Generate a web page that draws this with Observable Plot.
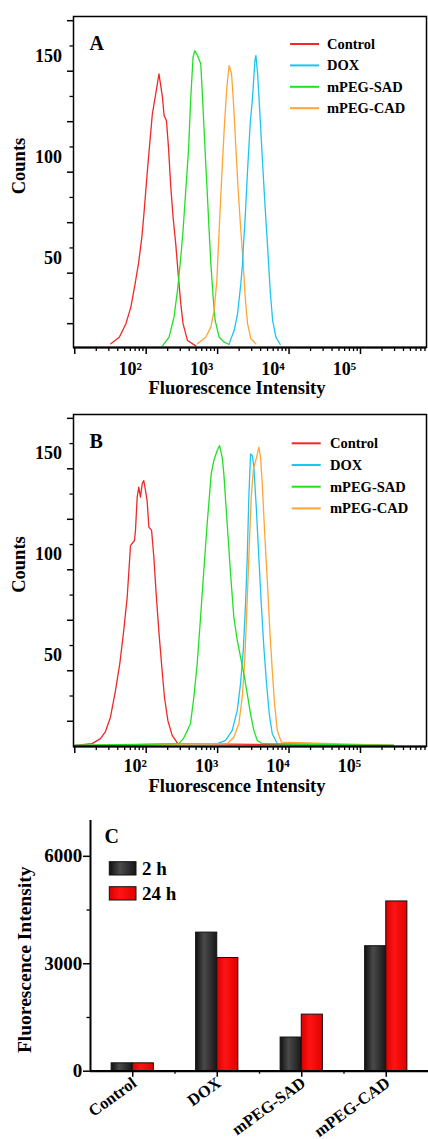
<!DOCTYPE html>
<html><head><meta charset="utf-8">
<script src="https://cdn.jsdelivr.net/npm/d3@7"></script>
<script src="https://cdn.jsdelivr.net/npm/@observablehq/plot@0.6"></script>
<style>
body{margin:0;background:#fff;}
#chart{width:428px;}
#chart svg{display:block;}
</style></head><body><div id="chart"></div>
<script>
// ---------- series names / colours ----------
const seriesNames = ["Control", "DOX", "mPEG-SAD", "mPEG-CAD"];
const seriesColors = ["#f02828", "#1cc6f0", "#22e022", "#ffa535"];

// ---------- Panel A (fluorescence intensity, counts) ----------
const aControlX = [32, 42, 52, 61, 70, 78, 87, 93, 104, 112, 122, 136, 151, 169, 178, 192, 205, 221, 238, 259, 283, 305, 328, 378, 494];
const aControlY = [15, 18.3, 25, 33.2, 44.8, 54.7, 67.8, 79.4, 100.8, 114, 128.9, 138.8, 148.7, 137, 128, 125.6, 112.4, 92.6, 77.7, 64.6, 48, 34.9, 25, 16.7, 14];
const aDoxX = [1449, 1702, 1901, 2113, 2234, 2307, 2432, 2624, 2858, 3083, 3327, 3436, 3631, 3908, 4266, 4592, 5012, 5445, 5888, 6546, 7534];
const aDoxY = [15, 21.6, 29.9, 44.8, 54.7, 64.6, 77.7, 100.8, 124, 137.1, 155.3, 157.8, 148.7, 128.9, 104.2, 84.4, 62.9, 41.4, 26.6, 18.3, 14.7];
const aSadX = [169, 209, 245, 274, 305, 328, 358, 391, 421, 453, 479, 522, 581, 614, 647, 682, 721, 760, 804, 865, 923, 1050, 1233, 1449];
const aSadY = [14, 18.3, 28.2, 41.4, 57.9, 71.1, 90.9, 110.7, 137.1, 156.9, 160.2, 157.8, 153.7, 137.1, 120.6, 104.2, 87.6, 71.1, 54.7, 38.1, 26.6, 18.3, 15.9, 14.7];
const aCadX = [522, 682, 804, 893, 975, 1050, 1135, 1233, 1346, 1449, 1567, 1671, 1799, 1941, 2113, 2280, 2432, 2624, 2924, 3436];
const aCadY = [15, 18.3, 23.3, 31.5, 46.4, 71.1, 95.9, 120.6, 142.1, 152.8, 148.7, 133.9, 112.4, 90.9, 71.1, 54.7, 38.1, 25, 17.5, 15];

// ---------- Panel B ----------
const bControlX = [10, 17.5, 22.9, 26.9, 31.6, 37.2, 42.7, 48.5, 54.2, 58.9, 60.3, 68.5, 70.8, 74.8, 78.7, 83.2, 87.9, 92.5, 97.7, 103, 109, 119, 128, 139, 150, 164, 180, 201, 231, 277, 290000];
const bControlY = [13, 13.9, 16.4, 19.9, 27, 40.3, 53.5, 70, 86.4, 106.2, 112, 114.5, 119.5, 136, 140.9, 136, 142.6, 144.2, 139.3, 134.3, 121.1, 119.5, 106.2, 86.4, 70, 53.5, 37, 25.4, 18, 13.9, 13];
const bDoxX = [10, 986, 1291, 1600, 1884, 2094, 2286, 2460, 2600, 2735, 2891, 3055, 3214, 3475, 3776, 4083, 4436, 4842, 5284, 5821, 6839, 290000];
const bDoxY = [13, 13.9, 15.5, 20.5, 30.4, 43.6, 60.1, 83.2, 106.2, 136, 157.4, 156.6, 150.8, 131, 106.2, 83.2, 61.7, 43.6, 28.7, 18.8, 13.9, 13];
const bSadX = [10, 286, 333, 378, 417, 465, 518, 577, 641, 714, 813, 885, 986, 1064, 1159, 1222, 1361, 1517, 1687, 1884, 2094, 2328, 2600, 2891, 3214, 3589, 4217, 290000];
const bSadY = [13, 13.9, 16.5, 20.5, 23.8, 37, 53.5, 76.5, 99.7, 122.8, 147.5, 154.1, 159.1, 161.5, 155.7, 147.5, 122.8, 98, 76.5, 65, 56.7, 48.5, 38.6, 28.7, 20.5, 15.5, 13.9, 13];
const bCadX = [10, 1361, 1687, 1982, 2213, 2382, 2541, 2735, 2958, 3155, 3319, 3508, 3776, 3990, 4217, 4539, 4955, 5383, 5821, 6266, 6839, 7780, 290000];
const bCadY = [13, 13.9, 17.1, 23.8, 37, 53.5, 76.5, 106.2, 136, 149.2, 152.5, 155.7, 160.7, 155.7, 142.6, 119.5, 94.8, 70, 50.2, 33.7, 20.5, 14.7, 13];

// ---------- Panel C (bars) ----------
const categories = ["Control", "DOX", "mPEG-SAD", "mPEG-CAD"];
const h2Values = [220, 3870, 940, 3490];
const h24Values = [220, 3160, 1580, 4740];
const barLegend = ["2 h", "24 h"];

// ---------- tick values ----------
const xMajorTicks = [10, 100, 1000, 10000, 100000];
const xLabelTicks = [100, 1000, 10000, 100000];
const xMinorTicks = [20,30,40,50,60,70,80,90,200,300,400,500,600,700,800,900,2000,3000,4000,5000,6000,7000,8000,9000,20000,30000,40000,50000,60000,70000,80000,90000,200000,300000,400000,500000,600000,700000,800000];
const yMajorTicks = [25, 50, 75, 100, 125, 150, 175];
const yMinorTicks = [37.5, 62.5, 87.5, 112.5, 137.5, 162.5];
const yLabelTicks = [50, 100, 150];
const cYTicks = [0, 3000, 6000];
const cYMinor = [1500, 4500];

const FONT = "'Liberation Serif', 'Times New Roman', serif";
const sup = {1: "¹", 2: "²", 3: "³", 4: "⁴", 5: "⁵"};
const baseStyle = {fontFamily: FONT, fontWeight: "bold", fontSize: "18px", background: "#fff", color: "#000", overflow: "visible"};

function histPanel(letter, series, o) {
  const svg = Plot.plot({
    width: 428, height: 400,
    marginTop: o.mt, marginBottom: o.mb, marginLeft: 73, marginRight: 2,
    style: baseStyle,
    x: {type: "log", domain: [9.6, 840000]},
    y: {domain: o.yd},
    marks: [
      ...series.map(s => Plot.line(s.x.map((x, i) => ({x, y: s.y[i]})), {x: "x", y: "y", stroke: s.color, strokeWidth: 1.3})),
      Plot.frame({strokeWidth: 1.5}),
      Plot.ruleY([o.yd[0]], {strokeWidth: 2.2}),
      Plot.axisX(xMinorTicks, {tickSize: 4, fill: "none", strokeWidth: 1.3, label: null}),
      Plot.axisX(xMajorTicks, {tickSize: 7, fill: "none", strokeWidth: 1.5, label: null}),
      Plot.axisX(xLabelTicks, {tickSize: 0, tickPadding: o.xtp, dx: o.xdx, fontSize: 18, fontWeight: "bold",
        tickFormat: d => "10" + sup[Math.round(Math.log10(d))], label: null}),
      Plot.axisY(yMinorTicks, {tickSize: 3.5, fill: "none", strokeWidth: 1.3, label: null}),
      Plot.axisY(yMajorTicks, {tickSize: 6, fill: "none", strokeWidth: 1.5, label: null}),
      Plot.axisY(yLabelTicks, {tickSize: 0, tickPadding: 11.5, dy: o.ydy, fontSize: 18, fontWeight: "bold", tickFormat: d => String(d), label: null}),
      Plot.text(["Counts"], {frameAnchor: "left", textAnchor: "middle", dx: -54, dy: -16, rotate: -90, fontSize: 18.5, fontWeight: "bold"}),
      Plot.text(["Fluorescence Intensity"], {frameAnchor: "bottom", textAnchor: "middle", dx: -13, dy: o.xldy, fontSize: 18.5, fontWeight: "bold"}),
      Plot.text([letter], {frameAnchor: "top-left", dx: 16, dy: 19, lineAnchor: "top", textAnchor: "start", fontSize: 20, fontWeight: "bold"})
    ]
  });
  const g = d3.select(svg).append("g").attr("font-family", FONT).attr("font-weight", "bold")
    .attr("font-size", 14.5).attr("text-anchor", "start");
  seriesNames.forEach((name, i) => {
    const y = o.legY + i * o.legStep;
    g.append("line").attr("x1", o.legX).attr("x2", o.legX + 29).attr("y1", y).attr("y2", y)
      .attr("stroke", seriesColors[i]).attr("stroke-width", 2);
    g.append("text").attr("x", o.legX + o.legGap).attr("y", y).attr("dy", "0.35em").attr("fill", "#000").text(name);
  });
  return svg;
}

const chart = document.getElementById("chart");

chart.appendChild(histPanel("A", [
  {x: aControlX, y: aControlY, color: seriesColors[0]},
  {x: aSadX, y: aSadY, color: seriesColors[2]},
  {x: aCadX, y: aCadY, color: seriesColors[3]},
  {x: aDoxX, y: aDoxY, color: seriesColors[1]}
], {mt: 16, mb: 53, yd: [13.2, 177.08], xtp: 14.5, xdx: -16, ydy: -15, xldy: 46, legX: 290, legY: 44, legStep: 21.4, legGap: 37}));

chart.appendChild(histPanel("B", [
  {x: bControlX, y: bControlY, color: seriesColors[0]},
  {x: bDoxX, y: bDoxY, color: seriesColors[1]},
  {x: bCadX, y: bCadY, color: seriesColors[3]},
  {x: bSadX, y: bSadY, color: seriesColors[2]}
], {mt: 14, mb: 54, yd: [12.5, 176.9], xtp: 13, xdx: -11, ydy: -16, xldy: 45, legX: 291.7, legY: 43.3, legStep: 21.7, legGap: 38.3}));

// ---------- Panel C ----------
const svgC = Plot.plot({
  width: 428, height: 339,
  marginTop: 20, marginBottom: 68.3, marginLeft: 90, marginRight: 0,
  style: baseStyle,
  x: {type: "linear", domain: [-0.5, 3.5]},
  y: {domain: [0, 7000]},
  marks: [
    Plot.rect(categories, {x1: (d, i) => i - 0.25, x2: (d, i) => i, y1: 0, y2: (d, i) => h2Values[i], fill: "url(#g2h)", stroke: "#111", strokeWidth: 1}),
    Plot.rect(categories, {x1: (d, i) => i, x2: (d, i) => i + 0.25, y1: 0, y2: (d, i) => h24Values[i], fill: "url(#g24h)", stroke: "#111", strokeWidth: 1}),
    Plot.ruleX([-0.5], {strokeWidth: 2}),
    Plot.ruleY([0], {strokeWidth: 2.2}),
    Plot.axisY(cYTicks, {tickSize: 7, fill: "none", strokeWidth: 1.5, label: null}),
    Plot.axisY(cYMinor, {tickSize: 3.5, fill: "none", strokeWidth: 1.3, label: null}),
    Plot.axisY(cYTicks, {tickSize: 0, tickPadding: 8.3, fontSize: 19, fontWeight: "bold", tickFormat: d => String(d), label: null}),
    Plot.axisX([0, 1, 2, 3], {tickSize: 6, fill: "none", strokeWidth: 1.5, label: null}),
    Plot.axisX([0.5, 1.5, 2.5], {tickSize: 3, fill: "none", strokeWidth: 1.3, label: null}),
    Plot.text(categories, {x: (d, i) => i, frameAnchor: "bottom", dx: 5, dy: 14, rotate: -36, textAnchor: "end", lineAnchor: "bottom", fontSize: 16.5, fontWeight: "bold"}),
    Plot.text(["Fluorescence Intensity"], {frameAnchor: "left", textAnchor: "middle", dx: -66, dy: 14, rotate: -90, fontSize: 19.5, fontWeight: "bold"}),
    Plot.text(["C"], {frameAnchor: "top-left", dx: 14, dy: 8, lineAnchor: "top", textAnchor: "start", fontSize: 20, fontWeight: "bold"})
  ]
});
const defs = d3.select(svgC).insert("defs", ":first-child");
const gDark = defs.append("linearGradient").attr("id", "g2h").attr("x1", 0).attr("x2", 1).attr("y1", 0).attr("y2", 0);
[[0, "#101010"], [0.4, "#4a4a4a"], [1, "#171717"]].forEach(([o, c]) => gDark.append("stop").attr("offset", o).attr("stop-color", c));
const gRed = defs.append("linearGradient").attr("id", "g24h").attr("x1", 0).attr("x2", 1).attr("y1", 0).attr("y2", 0);
[[0, "#d60000"], [0.4, "#ff1414"], [1, "#e00000"]].forEach(([o, c]) => gRed.append("stop").attr("offset", o).attr("stop-color", c));
const lg = d3.select(svgC).append("g").attr("font-family", FONT).attr("font-weight", "bold")
  .attr("font-size", 19).attr("text-anchor", "start");
barLegend.forEach((name, i) => {
  const y = 61.7 + i * 25;
  lg.append("rect").attr("x", 109.3).attr("y", y).attr("width", 26.7).attr("height", 13.3)
    .attr("fill", i === 0 ? "url(#g2h)" : "url(#g24h)").attr("stroke", "#111");
  lg.append("text").attr("x", 142).attr("y", y + 6.7).attr("dy", "0.35em").attr("fill", "#000").text(name);
});
chart.appendChild(svgC);
</script>
</body></html>
